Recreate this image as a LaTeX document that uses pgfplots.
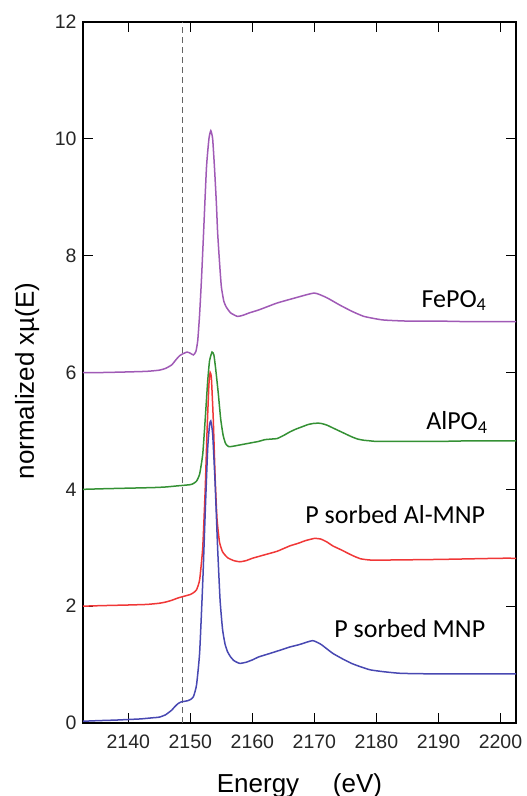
\documentclass[border=0pt]{standalone}
\usepackage{pgfplots}
\pgfplotsset{compat=1.18}
\usepackage{fontspec}
\setmainfont{Liberation Sans}
\newfontfamily\labelfont{Carlito}

\definecolor{fepo}{RGB}{160,90,182}
\definecolor{alpo}{RGB}{52,145,52}
\definecolor{almnp}{RGB}{240,55,55}
\definecolor{mnp}{RGB}{72,72,178}
\definecolor{edge}{RGB}{100,100,100}

\begin{document}
\begin{tikzpicture}
\begin{axis}[
  scale only axis,
  width=433pt, height=701pt,
  xmin=2132.7, xmax=2202.5,
  ymin=0, ymax=12,
  xtick={2140,2150,...,2200},
  ytick={0,2,...,12},
  /pgf/number format/1000 sep={},
  /pgf/number format/assume math mode=true,
  tick label style={font=\fontsize{19.5}{22}\selectfont, text=black!85},
  xticklabel style={yshift=-8pt},
  yticklabel style={xshift=-3pt},
  tick align=inside,
  major tick length=10pt,
  tick style={black, line width=1pt},
  axis line style={black, line width=1.1pt},
  xlabel={Energy\hspace{1.3em}(eV)},
  ylabel={normalized x\textmu(E)},
  label style={font=\fontsize{26}{30}\selectfont},
  xlabel style={at={(axis description cs:0.5,0)}, anchor=base, yshift=-69pt},
  ylabel style={at={(axis description cs:-0.129,0.488)}, anchor=center},
  clip=true,
]
% edge position marker
\addplot[edge, line width=0.9pt, dash pattern=on 6pt off 4pt] coordinates {(2148.8,0) (2148.8,12)};

% FePO4 (offset 6)
\addplot[fepo, line width=1.5pt, smooth, tension=0.3] coordinates {
(2132.7,6.00) (2136,6.00) (2140,6.01) (2143,6.02) (2145,6.04) (2146,6.07)
(2147,6.13) (2147.7,6.22) (2148.3,6.29) (2149,6.33) (2149.5,6.35) (2150,6.33)
(2150.5,6.30) (2150.9,6.36) (2151.2,6.55) (2151.5,7.0) (2151.8,7.6) (2152.1,8.3)
(2152.6,9.5) (2153.0,10.0) (2153.3,10.14) (2153.6,10.0) (2153.9,9.5) (2154.2,8.9)
(2154.4,8.4) (2154.7,7.9) (2155.0,7.47) (2155.4,7.22) (2155.8,7.12) (2156.5,7.02)
(2157.6,6.96) (2158.5,6.98) (2159.5,7.02) (2161,7.07) (2162.5,7.13) (2164,7.19)
(2167,7.28) (2170,7.36) (2172,7.28) (2174,7.16) (2176,7.05) (2178,6.96)
(2181,6.90) (2185,6.88) (2190,6.88) (2195,6.87) (2200,6.87) (2202.5,6.87)
};

% AlPO4 (offset 4)
\addplot[alpo, line width=1.5pt, smooth, tension=0.3] coordinates {
(2132.7,4.00) (2136,4.01) (2140,4.02) (2144,4.03) (2146,4.04) (2148,4.06)
(2150,4.08) (2150.5,4.10) (2151,4.14) (2151.5,4.26) (2152,4.6) (2152.4,5.2)
(2152.8,5.85) (2153.1,6.2) (2153.5,6.35) (2153.8,6.3) (2154.1,6.05) (2154.5,5.65)
(2154.9,5.2) (2155.3,4.92) (2155.7,4.78) (2156.2,4.73) (2157,4.74) (2158,4.76)
(2159,4.78) (2160,4.80) (2161,4.82) (2162,4.85) (2163,4.86) (2164,4.87)
(2165,4.92) (2166,4.98) (2167,5.03) (2168,5.07) (2169,5.11) (2170,5.13)
(2171,5.13) (2172,5.10) (2173,5.05) (2174,5.00) (2175,4.95) (2176,4.90)
(2177,4.86) (2178,4.84) (2179,4.83) (2180,4.82) (2185,4.82) (2190,4.82)
(2195,4.83) (2200,4.83) (2202.5,4.83)
};

% P sorbed Al-MNP (offset 2)
\addplot[almnp, line width=1.5pt, smooth, tension=0.3] coordinates {
(2132.7,2.00) (2136,2.01) (2140,2.02) (2143,2.03) (2145,2.05) (2146,2.07)
(2147,2.10) (2148,2.14) (2149,2.17) (2150,2.20) (2150.5,2.23) (2151,2.28)
(2151.5,2.45) (2152,3.0) (2152.4,4.0) (2152.7,5.0) (2153,5.8) (2153.2,6.0)
(2153.4,5.9) (2153.7,5.2) (2154,4.2) (2154.3,3.5) (2154.7,3.1) (2155.2,2.93)
(2156,2.83) (2157,2.78) (2158,2.76) (2159,2.78) (2160,2.82) (2161,2.85)
(2162,2.88) (2164,2.94) (2166,3.03) (2167.5,3.08) (2168.5,3.12) (2170,3.16)
(2171,3.15) (2172,3.10) (2173,3.03) (2174.4,2.96) (2175.5,2.90) (2176.5,2.85)
(2177.5,2.81) (2179,2.79) (2182,2.79) (2190,2.80) (2195,2.81) (2200,2.82)
(2202.5,2.82)
};

% P sorbed MNP
\addplot[mnp, line width=1.5pt, smooth, tension=0.3] coordinates {
(2132.7,0.03) (2135,0.04) (2138,0.05) (2140,0.06) (2142,0.07) (2144,0.09)
(2145,0.10) (2146,0.14) (2147,0.22) (2147.5,0.28) (2148,0.33) (2148.5,0.36)
(2149,0.37) (2149.5,0.38) (2150,0.40) (2150.5,0.45) (2151,0.65) (2151.5,1.2)
(2152,2.4) (2152.4,3.6) (2152.8,4.7) (2153.1,5.1) (2153.3,5.17) (2153.6,4.95)
(2154,4.1) (2154.4,3.0) (2154.8,2.1) (2155.2,1.6) (2155.6,1.35) (2156,1.22)
(2156.5,1.13) (2157,1.07) (2157.5,1.04) (2158,1.02) (2159,1.04) (2160,1.08)
(2161,1.13) (2162.5,1.18) (2164,1.23) (2166,1.30) (2167.5,1.34) (2169.7,1.41)
(2171,1.35) (2172,1.27) (2173,1.19) (2174.5,1.10) (2176,1.02) (2177.5,0.96)
(2179,0.91) (2181,0.88) (2184,0.85) (2190,0.84) (2195,0.84) (2200,0.84)
(2202.5,0.84)
};

% curve labels
\node[anchor=base east, font=\labelfont\fontsize{26}{30}\selectfont] at (axis cs:2198.3,7.12) {FePO\textsubscript{4}};
\node[anchor=base east, font=\labelfont\fontsize{26}{30}\selectfont] at (axis cs:2198.5,5.02) {AlPO\textsubscript{4}};
\node[anchor=base east, font=\labelfont\fontsize{26}{30}\selectfont] at (axis cs:2198.1,3.41) {P sorbed Al-MNP};
\node[anchor=base east, font=\labelfont\fontsize{26}{30}\selectfont] at (axis cs:2198.1,1.47) {P sorbed MNP};
\end{axis}
\pgfresetboundingbox
\path (-83pt,-73pt) rectangle (444pt,723pt);
\end{tikzpicture}
\end{document}
